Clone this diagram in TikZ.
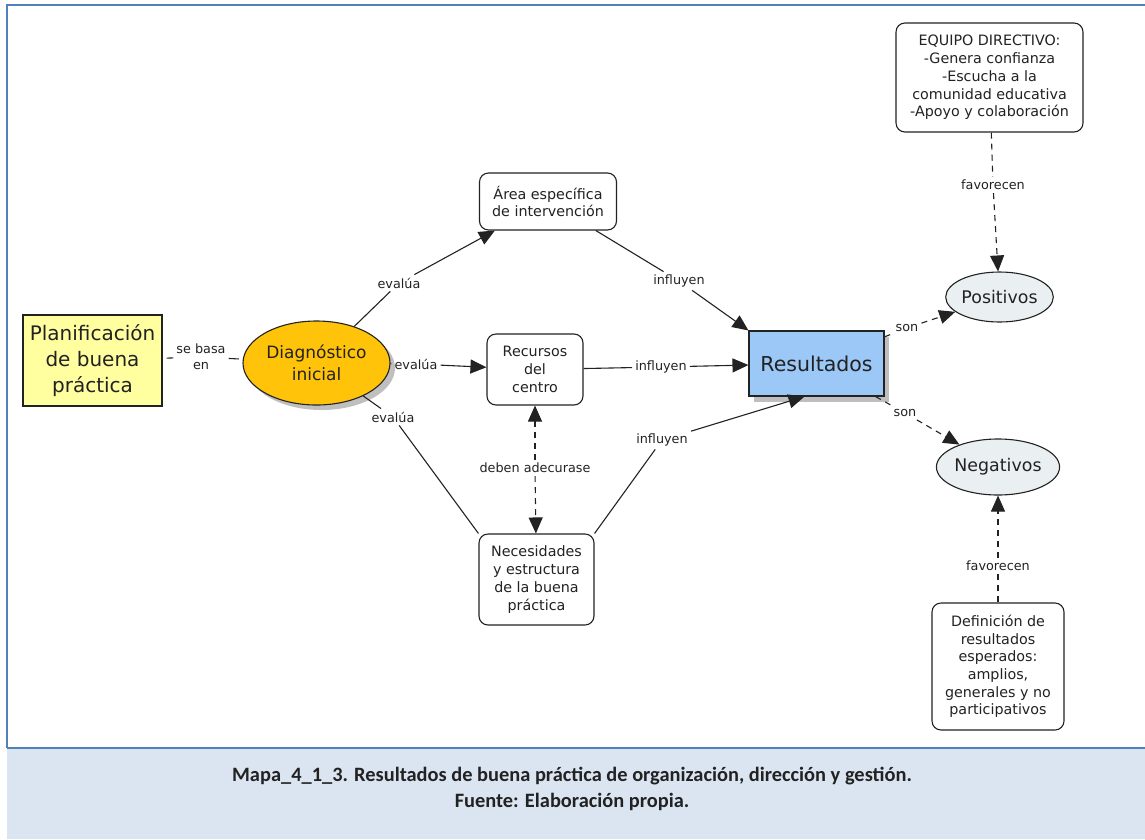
\documentclass[tikz,border=0pt]{standalone}
\usepackage{fontspec}
\setmainfont{DejaVu Sans}
\newfontfamily\capfont{Carlito}
\usetikzlibrary{arrows.meta,shapes.geometric,shadows}

\definecolor{framecol}{RGB}{79,129,189}
\definecolor{bandcol}{RGB}{219,229,241}
\definecolor{planfill}{RGB}{255,255,160}
\definecolor{diagfill}{RGB}{255,195,10}
\definecolor{resfill}{RGB}{156,200,247}
\definecolor{ovalfill}{RGB}{234,240,242}
\definecolor{ink}{RGB}{34,34,34}

\tikzset{
  boxtxt/.style={font=\fontsize{14.3}{17.7}\selectfont, text=ink, align=center},
  rbox/.style={boxtxt, draw=ink, line width=1.1pt, rounded corners=9pt, fill=white, inner sep=0pt},
  oval/.style={ellipse, draw=ink, line width=1.1pt, fill=ovalfill, inner sep=0pt,
               font=\fontsize{17.4}{20}\selectfont, text=ink},
  lbl/.style={font=\fontsize{12.8}{15}\selectfont, text=ink, align=center, inner sep=3pt},
  conn/.style={draw=ink, line width=1.1pt},
  arr/.style={conn, -{Triangle[length=16pt,width=14pt]}},
  dsh/.style={dash pattern=on 6pt off 5pt},
}

\begin{document}
\begin{tikzpicture}[x=1pt,y=-1pt]
\useasboundingbox (0,0) rectangle (1145,839);

% frame and caption band
\fill[bandcol] (7,748) rectangle (1145,839);
\draw[framecol, line width=1.5pt] (7,748) -- (7,5) -- (1145,5);
\draw[framecol, line width=1.2pt] (7,748) -- (1145,748);
\node[font=\capfont\bfseries\fontsize{20.4}{24}\selectfont, text=ink] (cap1) at (572,776)
  {Mapa\_4\_1\_3. Resultados de buena práctica de organización, dirección y gestión.};
\node[font=\capfont\bfseries\fontsize{20.4}{24}\selectfont, text=ink] (cap2) at (572,802)
  {Fuente: Elaboración propia.};

% concepts
\node[draw=ink, line width=1.2pt, fill=planfill, minimum width=139pt, minimum height=91pt,
      inner sep=0pt, align=center, font=\fontsize{20}{26}\selectfont, text=ink]
  (plan) at (92.5,360.5) {Planificación\\de buena\\práctica};
\node[ellipse, draw=ink, line width=1.1pt, fill=diagfill, minimum width=147pt, minimum height=84pt,
      inner sep=0pt, align=center, font=\fontsize{17}{22}\selectfont, text=ink,
      drop shadow={shadow xshift=5pt, shadow yshift=-5pt, opacity=1, fill=black!25}]
  (diag) at (316.5,363) {Diagnóstico\\inicial};
\node[rbox, minimum width=137pt, minimum height=57pt] (area) at (548,201.5)
  {Área específica\\de intervención};
\node[rbox, minimum width=96pt, minimum height=71pt] (rec) at (535,369.5)
  {Recursos\\del\\centro};
\node[rbox, minimum width=115pt, minimum height=91pt] (nec) at (536.5,579.5)
  {Necesidades\\y estructura\\de la buena\\práctica};
\node[draw=ink, line width=1.1pt, fill=resfill, minimum width=135pt, minimum height=65pt,
      inner sep=0pt, font=\fontsize{20.5}{24}\selectfont, text=ink,
      drop shadow={shadow xshift=5pt, shadow yshift=-6pt, opacity=1, fill=black!25}]
  (res) at (816.5,363.5) {Resultados};
\node[rbox, minimum width=187pt, minimum height=109pt] (equipo) at (989.5,77.5)
  {EQUIPO DIRECTIVO:\\-Genera confianza\\-Escucha a la\\comunidad educativa\\-Apoyo y colaboración};
\node[oval, minimum width=103pt, minimum height=50pt] (pos) at (999.5,297) {Positivos};
\node[oval, minimum width=114pt, minimum height=56pt] (neg) at (998,467) {Negativos};
\node[rbox, minimum width=132pt, minimum height=127pt] (defin) at (998,666.5)
  {Definición de\\resultados\\esperados:\\amplios,\\generales y no\\participativos};

% linking phrases
\node[lbl, font=\fontsize{12.8}{16}\selectfont] (lsb) at (201,357) {se basa\\en};
\node[lbl] (lev1) at (399,283) {evalúa};
\node[lbl] (lev2) at (416,364) {evalúa};
\node[lbl] (lev3) at (393,417) {evalúa};
\node[lbl] (linf1) at (679,281) {influyen};
\node[lbl] (linf2) at (661,367) {influyen};
\node[lbl] (linf3) at (662,440) {influyen};
\node[lbl] (ldeb) at (535,468) {deben adecurase};
\node[lbl] (lson1) at (907,328) {son};
\node[lbl] (lson2) at (905,413) {son};
\node[lbl] (lfav1) at (993,185) {favorecen};
\node[lbl] (lfav2) at (998,566) {favorecen};

% connectors
\draw[conn, shorten <=4pt] (plan) -- (lsb);
\draw[conn, shorten >=4pt] (lsb) -- (diag);

\draw[conn] (diag) -- (lev1);
\draw[arr] (lev1) -- (area);
\draw[conn] (diag) -- (lev2);
\draw[arr] (lev2) -- (rec);
\draw[conn] (diag) -- (lev3);
\draw[conn] (lev3) -- (nec.north west);

\draw[conn] (area) -- (linf1);
\draw[arr] (linf1) -- (res.north west);
\draw[conn] (rec) -- (linf2);
\draw[arr] (linf2) -- (res);
\draw[conn] (nec.north east) -- (linf3);
\draw[arr] (linf3) -- ([xshift=-12pt]res.south);

\draw[arr, dsh] (ldeb) -- (rec);
\draw[arr, dsh] (ldeb) -- (nec);

\draw[conn, dsh] (res) -- (lson1);
\draw[arr, dsh] (lson1) -- (pos);
\draw[conn, dsh] (res) -- (lson2);
\draw[arr, dsh] (lson2) -- (neg);

\draw[conn, dsh] (equipo) -- (lfav1);
\draw[arr, dsh] (lfav1) -- (pos);
\draw[conn, dsh] (defin) -- (lfav2);
\draw[arr, dsh] (lfav2) -- (neg);
\end{tikzpicture}
\end{document}
